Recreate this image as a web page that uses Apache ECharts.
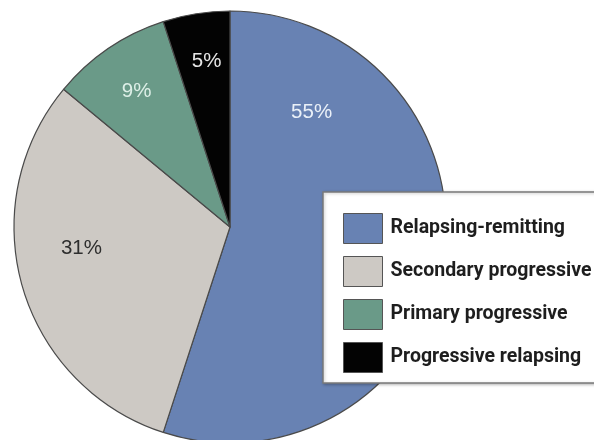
<!DOCTYPE html>
<html>
<head>
<meta charset="utf-8">
<script src="https://cdn.jsdelivr.net/npm/echarts@6/dist/echarts.min.js"></script>
<style>
  html, body { margin: 0; padding: 0; background: #ffffff; }
  #chart { width: 594px; height: 440px; }
</style>
</head>
<body>
<div id="chart"></div>
<script>
// MS subtype shares (percent of patients)
const categories = ['Relapsing-remitting', 'Secondary progressive', 'Primary progressive', 'Progressive relapsing'];
const shares = [55, 31, 9, 5];

// Styling, kept separate from the values
const sliceColors = ['#6882b3', '#cdc9c4', '#6a9a88', '#030303'];
const labelColors = ['#eaf0f8', '#2e2e2e', '#ddefe7', '#e6e6e6'];
const labelShift = [[-28, -132], [-42, -10], [-31, -44], [-6, -56]];

const chart = echarts.init(document.getElementById('chart'), null, { renderer: 'canvas' });

const pieData = categories.map((name, i) => ({
  name: name,
  value: shares[i],
  itemStyle: { color: sliceColors[i] },
  label: { color: labelColors[i], offset: labelShift[i] }
}));

chart.setOption({
  backgroundColor: '#ffffff',
  animation: false,
  legend: {
    orient: 'vertical',
    left: 323,
    top: 192,
    padding: [21, 40, 10, 20],
    itemWidth: 39,
    itemHeight: 30,
    itemGap: 12,
    icon: 'rect',
    selectedMode: false,
    backgroundColor: '#ffffff',
    borderColor: '#7a7a7a',
    borderWidth: 1.5,
    shadowColor: 'rgba(0,0,0,0.25)',
    shadowBlur: 3,
    shadowOffsetX: 1,
    shadowOffsetY: 1,
    itemStyle: { borderColor: '#555555', borderWidth: 1 },
    textStyle: {
      fontFamily: "Roboto, 'Liberation Sans', sans-serif",
      fontWeight: 'bold',
      fontSize: 19.5,
      color: '#1e1e1e',
      padding: [0, 0, 0, 3]
    },
    data: categories
  },
  series: [{
    type: 'pie',
    center: [230, 227],
    radius: [0, 216],
    startAngle: 90,
    clockwise: true,
    silent: true,
    itemStyle: { borderColor: '#4a4a4a', borderWidth: 1.2 },
    label: {
      show: true,
      position: 'inside',
      formatter: '{c}%',
      fontFamily: "'Liberation Sans', Arial, sans-serif",
      fontSize: 20.5
    },
    labelLine: { show: false },
    data: pieData
  }]
});
</script>
</body>
</html>
